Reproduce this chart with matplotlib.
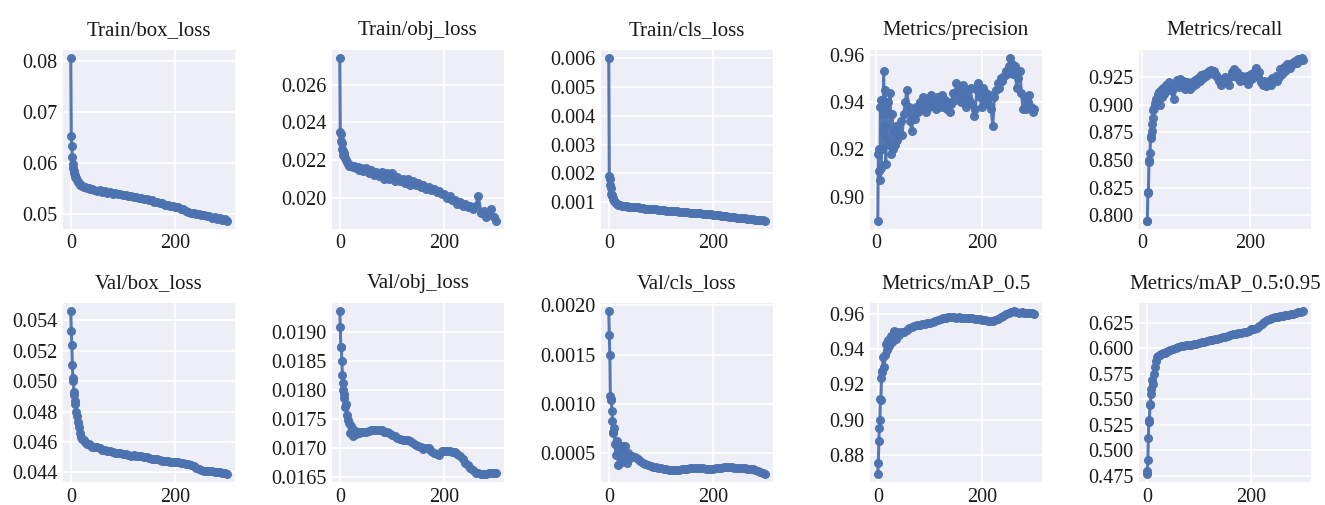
import numpy as np
import matplotlib
matplotlib.use("Agg")
import matplotlib.pyplot as plt

# ---------------- data ----------------
epochs = [0, 1, 2, 3, 4, 5, 6, 7, 8, 9, 10, 12, 14, 16, 18, 20, 22, 25, 28, 31, 34, 37, 40,
          45, 50, 55, 60, 65, 70, 75, 80, 85, 90,
          95, 100, 105, 110, 115, 120, 125, 130, 135, 140,
          145, 150, 155, 160, 165, 170, 175, 180, 185, 190,
          195, 200, 205, 210, 215, 220, 225, 230, 235, 240,
          245, 250, 255, 260, 265, 270, 275, 280, 285, 290,
          295, 299]

# precision / recall are logged from later epochs and read more densely
precision_epochs = list(range(3, 21)) + list(range(22, 41, 2)) + list(range(43, 299, 3))
recall_epochs = list(range(8, 21)) + list(range(22, 41, 2)) + list(range(43, 299, 3))

train_box_loss = [0.0805, 0.0652, 0.0632, 0.0610, 0.0598, 0.0590, 0.0584, 0.0579, 0.0575, 0.0572, 0.0569, 0.0565, 0.0562, 0.0559, 0.0557, 0.0556, 0.0555, 0.0553, 0.0552, 0.0551, 0.0550, 0.0549, 0.0548,
                  0.0547, 0.0545, 0.0546, 0.0543, 0.0544, 0.0541, 0.0542, 0.0539, 0.0540, 0.0538,
                  0.0538, 0.0536, 0.0537, 0.0534, 0.0535, 0.0532, 0.0533, 0.0530, 0.0531, 0.0528,
                  0.0529, 0.0526, 0.0526, 0.0523, 0.0523, 0.0520, 0.0520, 0.0517, 0.0517, 0.0515,
                  0.0515, 0.0512, 0.0512, 0.0509, 0.0508, 0.0505, 0.0504, 0.0502, 0.0502, 0.0499,
                  0.0500, 0.0497, 0.0498, 0.0495, 0.0495, 0.0492, 0.0494, 0.0490, 0.0491, 0.0488,
                  0.0490, 0.0486]

train_obj_loss = [0.0274, 0.0235, 0.0234, 0.0230, 0.0229, 0.0226, 0.0225, 0.0223, 0.0224, 0.0222, 0.0221, 0.0220, 0.0219, 0.0218, 0.0217, 0.02175, 0.0217, 0.02165, 0.0217, 0.0216, 0.02165, 0.0215, 0.0216,
                  0.02145, 0.0216, 0.0213, 0.0215, 0.0212, 0.0214, 0.02115, 0.0214, 0.0210, 0.0213,
                  0.0210, 0.0213, 0.0209, 0.0211, 0.0209, 0.0210, 0.0208, 0.0210, 0.0207, 0.0209,
                  0.0207, 0.0208, 0.0206, 0.0207, 0.0205, 0.0206, 0.0204, 0.0205, 0.0203, 0.02035,
                  0.0202, 0.0202, 0.0200, 0.0201, 0.0199, 0.0199, 0.0197, 0.0198, 0.0196, 0.0197,
                  0.0195, 0.0196, 0.0194, 0.0196, 0.0201, 0.0192, 0.0193, 0.0190, 0.0192, 0.0194,
                  0.0190, 0.0188]

train_cls_loss = [0.0060, 0.0019, 0.0018, 0.0016, 0.0015, 0.0013, 0.00125, 0.0012, 0.00115, 0.0011, 0.00105, 0.00100, 0.00097, 0.00094, 0.00092, 0.00090, 0.00089, 0.00088, 0.00087, 0.00086, 0.00086, 0.00085, 0.00084,
                  0.00083, 0.00082, 0.00082, 0.00080, 0.00080, 0.00078, 0.00078, 0.00076, 0.00076, 0.00075,
                  0.00073, 0.00073, 0.00072, 0.00071, 0.00071, 0.00069, 0.00069, 0.00068, 0.00067, 0.00067,
                  0.00066, 0.00066, 0.00064, 0.00064, 0.00062, 0.00062, 0.00061, 0.00060, 0.00059, 0.00058,
                  0.00058, 0.00057, 0.00056, 0.00055, 0.00053, 0.00053, 0.00051, 0.00050, 0.00049, 0.00048,
                  0.00047, 0.00046, 0.00045, 0.00044, 0.00043, 0.00042, 0.00041, 0.00040, 0.00039, 0.00038,
                  0.00037, 0.00036]

precision = [0.890, 0.918, 0.911, 0.920, 0.907, 0.938, 0.912, 0.941, 0.920, 0.935, 0.928, 0.953, 0.940, 0.930, 0.945, 0.914, 0.936, 0.925,
             0.940, 0.922, 0.944, 0.918, 0.935, 0.920, 0.928, 0.922, 0.930, 0.924,
             0.927, 0.932, 0.926, 0.935, 0.940, 0.945, 0.938, 0.932, 0.928, 0.935,
             0.933, 0.938, 0.936, 0.940, 0.937, 0.942, 0.939, 0.936, 0.941, 0.938,
             0.943, 0.939, 0.941, 0.937, 0.942, 0.938, 0.940, 0.943, 0.938, 0.941,
             0.937, 0.940, 0.936, 0.939, 0.944, 0.941, 0.948, 0.943, 0.946, 0.940,
             0.947, 0.942, 0.938, 0.945, 0.941, 0.946, 0.939, 0.934, 0.937, 0.945,
             0.948, 0.942, 0.938, 0.946, 0.941, 0.944, 0.939, 0.943, 0.937, 0.930,
             0.942, 0.945, 0.948, 0.946, 0.950, 0.949, 0.951, 0.953, 0.952, 0.955,
             0.9585, 0.956, 0.952, 0.955, 0.946, 0.950, 0.953, 0.944, 0.937, 0.942,
             0.937, 0.940, 0.943, 0.938, 0.936, 0.937]

recall = [0.795, 0.795, 0.820, 0.821, 0.848, 0.850, 0.856, 0.870, 0.872, 0.876, 0.882, 0.888, 0.895,
          0.897, 0.901, 0.905, 0.910, 0.911, 0.900, 0.913, 0.907, 0.915, 0.910,
          0.918, 0.913, 0.920, 0.915, 0.912, 0.905, 0.918, 0.922, 0.916, 0.923,
          0.918, 0.921, 0.914, 0.920, 0.917, 0.914, 0.920, 0.917, 0.922, 0.919,
          0.924, 0.921, 0.927, 0.924, 0.928, 0.926, 0.929, 0.930, 0.931, 0.928,
          0.930, 0.927, 0.925, 0.921, 0.918, 0.920, 0.923, 0.925, 0.921, 0.918,
          0.925, 0.929, 0.932, 0.926, 0.929, 0.924, 0.921, 0.926, 0.922, 0.924,
          0.926, 0.919, 0.922, 0.928, 0.924, 0.930, 0.933, 0.926, 0.929, 0.920,
          0.918, 0.921, 0.917, 0.919, 0.921, 0.918, 0.924, 0.922, 0.926, 0.921,
          0.925, 0.932, 0.928, 0.934, 0.930, 0.937, 0.935, 0.933, 0.938, 0.937,
          0.939, 0.938, 0.941, 0.940, 0.942, 0.940]

val_box_loss = [0.0546, 0.0533, 0.0524, 0.0511, 0.0502, 0.0500, 0.0493, 0.0491, 0.0487, 0.0485, 0.0480, 0.0477, 0.0473, 0.0470, 0.0466, 0.0463, 0.0462, 0.0461, 0.0460, 0.0459, 0.04585, 0.0458, 0.0457,
                0.0457, 0.04565, 0.0456, 0.0455, 0.04545, 0.0454, 0.0454, 0.04535, 0.0453, 0.0453,
                0.04525, 0.0452, 0.0452, 0.04515, 0.0451, 0.04512, 0.0451, 0.0451, 0.04505, 0.0450,
                0.04498, 0.04495, 0.0449, 0.04488, 0.04485, 0.0448, 0.04478, 0.04475, 0.04475, 0.0447,
                0.0447, 0.04468, 0.04465, 0.0446, 0.0446, 0.04458, 0.04455, 0.0445, 0.0444, 0.0443,
                0.0442, 0.04415, 0.0441, 0.0441, 0.04408, 0.04408, 0.04405, 0.0440, 0.0440, 0.04398,
                0.04395, 0.0439]

val_obj_loss = [0.01935, 0.01908, 0.01874, 0.01873, 0.01849, 0.01826, 0.01812, 0.01800, 0.01792, 0.01785, 0.01771, 0.01776, 0.01757, 0.01748, 0.01742, 0.01725, 0.01737, 0.01720, 0.01731, 0.01724, 0.01727, 0.01726, 0.01727,
                0.01727, 0.01728, 0.01729, 0.01730, 0.01731, 0.01731, 0.01730, 0.01730, 0.01728, 0.01727,
                0.01725, 0.01722, 0.01720, 0.01717, 0.01715, 0.01714, 0.01714, 0.01714, 0.01712, 0.01708,
                0.01705, 0.01703, 0.01701, 0.01698, 0.01700, 0.01700, 0.01695, 0.01691, 0.01689, 0.01688,
                0.01694, 0.01695, 0.01695, 0.01694, 0.01692, 0.01692, 0.01690, 0.01686, 0.01680, 0.01674,
                0.01670, 0.01666, 0.01662, 0.01657, 0.01656, 0.01655, 0.01655, 0.01655, 0.01656, 0.01656,
                0.01657, 0.01657]

val_cls_loss = [0.00194, 0.00170, 0.00150, 0.00108, 0.00105, 0.00104, 0.00093, 0.00083, 0.00072, 0.00070, 0.00076, 0.00059, 0.00048, 0.00062, 0.00038, 0.00052, 0.00040, 0.00057, 0.00043, 0.00057, 0.00040, 0.00050, 0.00045,
                0.00047, 0.00046, 0.00044, 0.00042, 0.00040, 0.00039, 0.00038, 0.00037, 0.00036, 0.00036,
                0.00035, 0.00035, 0.00034, 0.00034, 0.00033, 0.00033, 0.00033, 0.00033, 0.00033, 0.00034,
                0.00034, 0.00034, 0.00035, 0.00035, 0.00035, 0.00035, 0.00035, 0.00035, 0.00034, 0.00034,
                0.00034, 0.00034, 0.00035, 0.00035, 0.00035, 0.00036, 0.00036, 0.00036, 0.00036, 0.00035,
                0.00035, 0.00035, 0.00035, 0.00035, 0.00034, 0.00034, 0.00034, 0.00033, 0.00032, 0.00031,
                0.00030, 0.00029]

map_05 = [0.8692, 0.8756, 0.8876, 0.8951, 0.9000, 0.9116, 0.9110, 0.9235, 0.9279, 0.9273, 0.9358, 0.9300, 0.9368, 0.9430, 0.9396, 0.9453, 0.9420, 0.9475, 0.9440, 0.9505, 0.9460, 0.9495, 0.9480,
          0.9500, 0.9495, 0.9510, 0.9518, 0.9525, 0.9530, 0.9535, 0.9540, 0.9542, 0.9545,
          0.9548, 0.9550, 0.9555, 0.9560, 0.9565, 0.9570, 0.9575, 0.9578, 0.9580, 0.9582,
          0.9580, 0.9578, 0.9580, 0.9578, 0.9578, 0.9577, 0.9576, 0.9575, 0.9574, 0.9572,
          0.9570, 0.9568, 0.9565, 0.9560, 0.9558, 0.9560, 0.9565, 0.9572, 0.9580, 0.9590,
          0.9598, 0.9605, 0.9612, 0.9615, 0.9610, 0.9608, 0.9610, 0.9605, 0.9607, 0.9605,
          0.9603, 0.9600]

map_05_095 = [0.4766, 0.4792, 0.4899, 0.5116, 0.5294, 0.5280, 0.5446, 0.5456, 0.5553, 0.5602, 0.5683, 0.5650, 0.5747, 0.5812, 0.5877, 0.5909, 0.5919, 0.5932, 0.5940, 0.5948, 0.5952, 0.5958, 0.5968,
              0.5978, 0.5990, 0.5998, 0.6012, 0.6018, 0.6025, 0.6028, 0.6032, 0.6035, 0.6038,
              0.6042, 0.6055, 0.6058, 0.6062, 0.6068, 0.6077, 0.6082, 0.6088, 0.6092, 0.6103,
              0.6107, 0.6112, 0.6118, 0.6130, 0.6135, 0.6140, 0.6145, 0.6152, 0.6157, 0.6162,
              0.6168, 0.6185, 0.6190, 0.6198, 0.6215, 0.6235, 0.6255, 0.6272, 0.6285, 0.6295,
              0.6302, 0.6308, 0.6315, 0.6320, 0.6325, 0.6330, 0.6335, 0.6340, 0.6345, 0.6352,
              0.6358, 0.6362]

titles = ["Train/box_loss", "Train/obj_loss", "Train/cls_loss", "Metrics/precision", "Metrics/recall",
          "Val/box_loss", "Val/obj_loss", "Val/cls_loss", "Metrics/mAP_0.5", "Metrics/mAP_0.5:0.95"]
series = [(epochs, train_box_loss), (epochs, train_obj_loss), (epochs, train_cls_loss),
          (precision_epochs, precision), (recall_epochs, recall),
          (epochs, val_box_loss), (epochs, val_obj_loss), (epochs, val_cls_loss),
          (epochs, map_05), (epochs, map_05_095)]
yticks = [
    ([0.05, 0.06, 0.07, 0.08], "{:.2f}"),
    ([0.020, 0.022, 0.024, 0.026], "{:.3f}"),
    ([0.001, 0.002, 0.003, 0.004, 0.005, 0.006], "{:.3f}"),
    ([0.90, 0.92, 0.94, 0.96], "{:.2f}"),
    ([0.800, 0.825, 0.850, 0.875, 0.900, 0.925], "{:.3f}"),
    ([0.044, 0.046, 0.048, 0.050, 0.052, 0.054], "{:.3f}"),
    ([0.0165, 0.0170, 0.0175, 0.0180, 0.0185, 0.0190], "{:.4f}"),
    ([0.0005, 0.0010, 0.0015, 0.0020], "{:.4f}"),
    ([0.88, 0.90, 0.92, 0.94, 0.96], "{:.2f}"),
    ([0.475, 0.500, 0.525, 0.550, 0.575, 0.600, 0.625], "{:.3f}"),
]
xticks = [0, 200]

# ---------------- style ----------------
plt.rcParams["font.family"] = ["Liberation Serif", "DejaVu Serif"]
plt.rcParams["axes.facecolor"] = "#EEEEF6"
plt.rcParams["axes.edgecolor"] = "none"
plt.rcParams["grid.color"] = "white"
plt.rcParams["grid.linewidth"] = 1.2
plt.rcParams["xtick.major.size"] = 0
plt.rcParams["ytick.major.size"] = 0
plt.rcParams["xtick.labelsize"] = 14.5
plt.rcParams["ytick.labelsize"] = 14.5
plt.rcParams["text.color"] = "#1a1a1a"
plt.rcParams["xtick.color"] = "#1a1a1a"
plt.rcParams["ytick.color"] = "#1a1a1a"

fig, axes = plt.subplots(2, 5, figsize=(13.25, 5.05), dpi=100)
fig.subplots_adjust(left=0.0475, right=0.9894, top=0.901, bottom=0.0455, wspace=0.564, hspace=0.416)

for ax, title, (xs, ys), (yt, fmt) in zip(axes.ravel(), titles, series, yticks):
    ax.plot(np.array(xs), np.array(ys, dtype=float), marker=".", linewidth=2.2,
            markersize=11, color="#4C72B0", alpha=0.95)
    ax.set_title(title, fontsize=15, pad=11)
    ax.grid(True)
    ax.set_axisbelow(True)
    for s in ax.spines.values():
        s.set_visible(False)
    ax.set_xticks(xticks)
    ax.set_yticks(yt)
    ax.set_yticklabels([fmt.format(v) for v in yt])
    ax.tick_params(axis="x", pad=4)
    ax.tick_params(axis="y", pad=4)
    ax.margins(x=0.05, y=0.05)

fig.savefig("out.png", dpi=100, facecolor="white")
